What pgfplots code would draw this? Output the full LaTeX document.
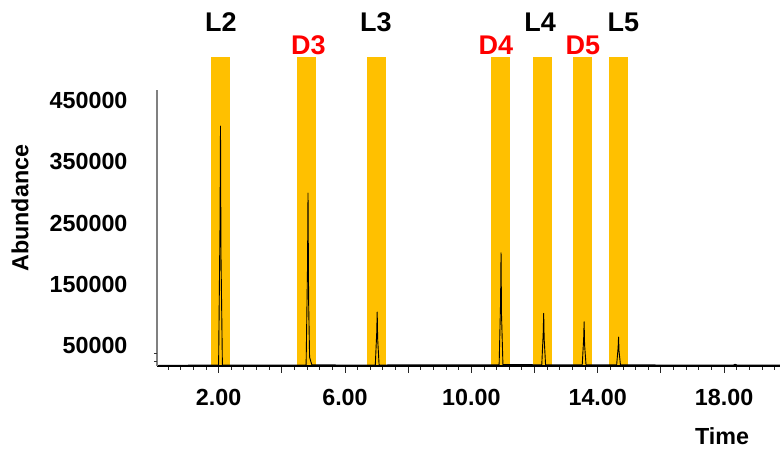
\documentclass[border=0pt]{standalone}
\usepackage{pgfplots}
\pgfplotsset{compat=1.18}
\usepackage{fontspec}
\setmainfont{Liberation Sans}
\definecolor{band}{HTML}{FFC000}
\definecolor{dred}{HTML}{FF0000}
\begin{document}
\begin{tikzpicture}
\path[use as bounding box] (-157pt,-83pt) rectangle (623pt,366pt);
\begin{axis}[
 at={(0pt,0pt)}, anchor=south west,
 width=623pt, height=276pt, scale only axis,
 xmin=0.05, xmax=19.77, ymin=15600, ymax=468000,
 clip=false, axis on top,
 axis x line*=bottom, axis y line*=left,
 x axis line style={black, line width=1.3pt, -},
 y axis line style={gray, line width=1.2pt, -},
 xtick={0,2,...,20},
 xticklabels={,2.00,,6.00,,10.00,,14.00,,18.00,},
 minor x tick num=4,
 ytick={50000,150000,250000,350000,450000},
 yticklabels={50000,150000,250000,350000,450000},
 scaled y ticks=false,
 extra y ticks={23800,36900},
 extra y tick labels={},
 extra y tick style={major tick length=3pt, y tick style={draw=black!80, line width=0.6pt}},
 tick align=outside,
 x tick style={black!85, line width=0.8pt},
 y tick style={draw=none},
 major tick length=7pt, minor tick length=4pt,
 /pgf/number format/assume math mode=true,
 ticklabel style={font=\bfseries\fontsize{23.3}{25}\selectfont},
 yticklabel style={xshift=-19pt},
 xticklabel style={yshift=-13pt},
 xlabel={Time}, ylabel={Abundance},
 xlabel style={at={(axis description cs:0.907,-0.254)}, anchor=center, font=\bfseries\fontsize{23.3}{25}\selectfont},
 ylabel style={at={(axis description cs:-0.22,0.572)}, anchor=center, font=\bfseries\fontsize{23.3}{25}\selectfont},
]
% bands
\addplot[fill=band, draw=none, forget plot] coordinates {(1.77,15600)(1.77,522000)(2.37,522000)(2.37,15600)} -- cycle;
\addplot[fill=band, draw=none, forget plot] coordinates {(4.49,15600)(4.49,522000)(5.09,522000)(5.09,15600)} -- cycle;
\addplot[fill=band, draw=none, forget plot] coordinates {(6.70,15600)(6.70,522000)(7.30,522000)(7.30,15600)} -- cycle;
\addplot[fill=band, draw=none, forget plot] coordinates {(10.62,15600)(10.62,522000)(11.22,522000)(11.22,15600)} -- cycle;
\addplot[fill=band, draw=none, forget plot] coordinates {(11.95,15600)(11.95,522000)(12.56,522000)(12.56,15600)} -- cycle;
\addplot[fill=band, draw=none, forget plot] coordinates {(13.22,15600)(13.22,522000)(13.82,522000)(13.82,15600)} -- cycle;
\addplot[fill=band, draw=none, forget plot] coordinates {(14.36,15600)(14.36,522000)(14.96,522000)(14.96,15600)} -- cycle;
% chromatogram
\addplot[black, line width=0.9pt, line join=round] coordinates {
(0.10,16800) (1.00,16900) (2.00,17000) (2.045,250000) (2.06,409000) (2.075,200000) (2.12,17200)
(3.50,17100) (4.77,17200) (4.815,180000) (4.83,299000) (4.85,120000) (4.88,30000) (4.95,17600)
(6.00,17200) (6.96,17200) (7.005,70000) (7.02,104000) (7.035,60000) (7.08,17300)
(9.00,17400) (10.88,17600) (10.925,120000) (10.94,201000) (10.955,100000) (11.00,17800)
(12.23,17700) (12.275,70000) (12.29,102000) (12.305,60000) (12.35,17700)
(13.51,17600) (13.555,60000) (13.57,88000) (13.585,50000) (13.63,17600)
(14.60,17500) (14.645,45000) (14.66,63000) (14.675,40000) (14.72,17400)
(16.00,17300) (18.30,17300) (18.35,18500) (18.40,17300) (19.77,17200)
};
\node[font=\bfseries\fontsize{27}{29}\selectfont, text=black] at (axis cs:2.07,579400) {L2};
\node[font=\bfseries\fontsize{27}{29}\selectfont, text=dred] at (axis cs:4.84,541700) {D3};
\node[font=\bfseries\fontsize{27}{29}\selectfont, text=black] at (axis cs:6.98,579400) {L3};
\node[font=\bfseries\fontsize{27}{29}\selectfont, text=dred] at (axis cs:10.78,541700) {D4};
\node[font=\bfseries\fontsize{27}{29}\selectfont, text=black] at (axis cs:12.18,579400) {L4};
\node[font=\bfseries\fontsize{27}{29}\selectfont, text=dred] at (axis cs:13.53,541700) {D5};
\node[font=\bfseries\fontsize{27}{29}\selectfont, text=black] at (axis cs:14.81,579400) {L5};
\end{axis}
\end{tikzpicture}
\end{document}
